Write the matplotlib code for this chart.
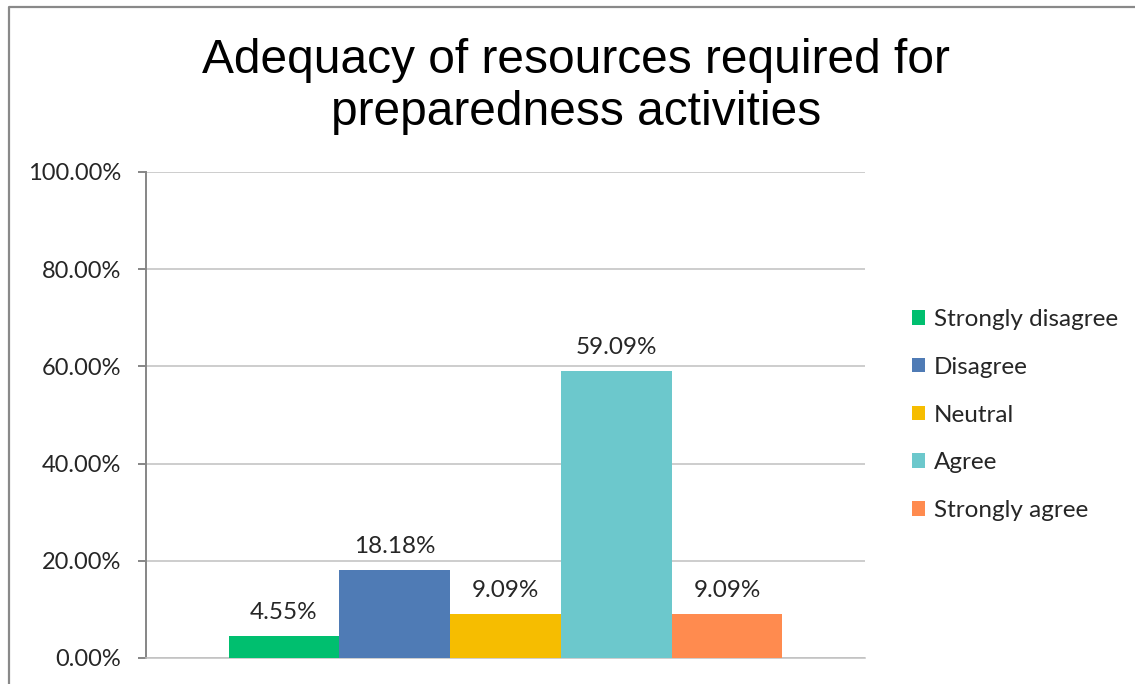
# -*- coding: utf-8 -*-

"""Bar chart: adequacy of resources required for preparedness activities."""

import matplotlib
matplotlib.use('Agg')
import matplotlib.pyplot as plt
import matplotlib.ticker as ticker
from matplotlib.lines import Line2D

TITLE_LINES = ["Adequacy of resources required for", "preparedness activities"]
CATEGORIES = ["Strongly disagree", "Disagree", "Neutral", "Agree", "Strongly agree"]
VALUES = [4.55, 18.18, 9.09, 59.09, 9.09]
COLORS = ['#00BF6F', '#4F7BB5', '#F6BD00', '#6CC8CC', '#FF8B4F']
Y_TICKS = [0, 20, 40, 60, 80, 100]

W, H = 1135, 684
TEXT_COLOR = '#262626'
GRID_COLOR = '#C0C0C0'
SPINE_COLOR = '#868686'

fig = plt.figure(figsize=(W / 100, H / 100), dpi=100)
ax = fig.add_axes([146 / W, (H - 658) / H, (865 - 146) / W, (658 - 172) / H])

positions = list(range(len(CATEGORIES)))
for pos, value, color, name in zip(positions, VALUES, COLORS, CATEGORIES):
    bar = ax.bar(pos, value, width=1.0, color=color, label=name, zorder=3)
    ax.bar_label(bar, labels=["%.2f%%" % value], padding=9,
                 fontsize=17.5, family='Lato', color=TEXT_COLOR)

ax.set_xlim(-1.245, 5.245)
ax.set_ylim(0, 100)
ax.set_yticks(Y_TICKS)
ax.yaxis.set_major_formatter(ticker.FuncFormatter(lambda y, pos: "%.2f%%" % y))
ax.set_xticks([])
ax.grid(axis='y', color=GRID_COLOR, linewidth=1.1, zorder=0)
ax.set_axisbelow(True)

for side in ('top', 'right'):
    ax.spines[side].set_visible(False)
ax.spines['left'].set_color(SPINE_COLOR)
ax.spines['left'].set_linewidth(1.4)
ax.spines['bottom'].set_color(GRID_COLOR)
ax.spines['bottom'].set_linewidth(1.1)
ax.tick_params(axis='y', direction='out', length=6, width=1.4, color=SPINE_COLOR,
               pad=12, labelsize=17, labelcolor=TEXT_COLOR)
for label in ax.get_yticklabels():
    label.set_family('Lato')

# title in two centred lines
fig.text(576 / W, 1 - 73 / H, TITLE_LINES[0], ha='center', va='baseline',
         fontsize=34.5, family='Liberation Sans', color='black')
fig.text(576 / W, 1 - 125 / H, TITLE_LINES[1], ha='center', va='baseline',
         fontsize=34.5, family='Liberation Sans', color='black')

ax.legend(loc='center left', bbox_to_anchor=(902 / W, 1 - 415 / H),
          bbox_transform=fig.transFigure, frameon=False,
          prop={'family': 'Lato', 'size': 17.5}, labelcolor=TEXT_COLOR,
          handlelength=0.55, handleheight=0.55, handletextpad=0.35,
          labelspacing=1.1, borderaxespad=0)

# chart-area frame (only top and left edges are inside the picture)
frame = Line2D([9 / W, 9 / W, 1.0], [0.0, 1 - 7 / H, 1 - 7 / H],
               transform=fig.transFigure, color='#898989', linewidth=1.6)
fig.add_artist(frame)

fig.savefig('out.png', dpi=100)
